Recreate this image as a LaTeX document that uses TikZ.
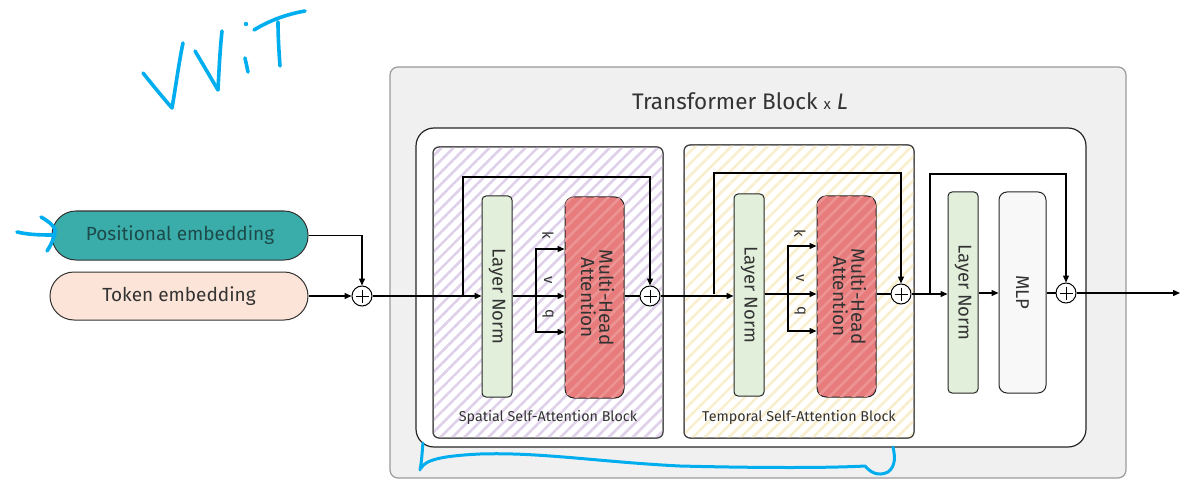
\documentclass[tikz,border=0pt]{standalone}
\usepackage{fontspec}
\setmainfont{Fira Sans}
\usetikzlibrary{arrows.meta,patterns.meta,calc}
\definecolor{outerfill}{HTML}{F1F0F1}
\definecolor{outerdraw}{HTML}{9A9A9A}
\definecolor{tealc}{HTML}{3AADAA}
\definecolor{tealtext}{HTML}{1D4A4A}
\definecolor{peach}{HTML}{FCE5D8}
\definecolor{lngreen}{HTML}{E2EFDA}
\definecolor{mhared}{HTML}{E87C7C}
\definecolor{mhastripe}{HTML}{EC9494}
\definecolor{mlpfill}{HTML}{F8F8F8}
\definecolor{purpstripe}{HTML}{E0D1EA}
\definecolor{yelstripe}{HTML}{F9EFCF}
\definecolor{ink}{HTML}{00AEEF}
\definecolor{txt}{HTML}{333333}
\tikzset{
  arr/.style={line width=1.3pt,-{Triangle[length=7pt,width=6pt]}},
  ln/.style={line width=1.3pt},
  pill/.style={rounded corners=24pt,draw=black!80,line width=1pt,text=txt,font=\fontsize{19}{22}\selectfont},
  lnbox/.style={draw=black!85,line width=1pt,rounded corners=4pt,fill=lngreen,text=txt,font=\fontsize{18.5}{21}\selectfont,inner sep=0},
  mhabox/.style={draw=black!85,line width=1pt,rounded corners=9pt,fill=mhared,text=txt,font=\fontsize{19}{21}\selectfont,inner sep=0},
  plus/.style={circle,draw=black,line width=1pt,fill=white,minimum size=20pt,inner sep=0,
    path picture={\draw[line width=1pt] ([yshift=-3.5pt]path picture bounding box.north)--([yshift=3.5pt]path picture bounding box.south)
      ([xshift=3.5pt]path picture bounding box.west)--([xshift=-3.5pt]path picture bounding box.east);}},
  blockbg/.style={draw=black!75,line width=1pt,rounded corners=6pt,fill=white},
  small/.style={font=\fontsize{14.3}{16}\selectfont,text=txt},
  kvq/.style={font=\fontsize{15}{16}\selectfont,text=txt,rotate=-90},
  hand/.style={draw=ink,line width=3.6pt,line cap=round,line join=round},
  hatch/.style={pattern={Lines[angle=45,distance=8.5pt,line width=2.6pt]}}
}
\begin{document}
\begin{tikzpicture}[x=1pt,y=-1pt]
\useasboundingbox (0,0) rectangle (1188,481);
% outer box
\draw[fill=outerfill,draw=outerdraw,line width=1.2pt,rounded corners=8pt] (390,67) rectangle (1126,478);
\node[font=\fontsize{22.5}{26}\selectfont,text=txt] (title) at (740,101) {Transformer Block {\fontsize{15}{17}\selectfont x} \textit{L}};
% inner box
\draw[fill=white,draw=black!85,line width=1.2pt,rounded corners=18pt] (416,128) rectangle (1086,447);
% spatial block
\draw[blockbg] (433,147) rectangle (663,438);
\fill[hatch,pattern color=purpstripe,rounded corners=6pt] (433.5,147.5) rectangle (662.5,437.5);
\draw[draw=black!75,line width=1pt,rounded corners=6pt] (433,147) rectangle (663,438);
\node[small] (slabel) at (548,417) {Spatial Self-Attention Block};
% temporal block
\draw[blockbg] (684,145) rectangle (914,438);
\fill[hatch,pattern color=yelstripe,rounded corners=6pt] (684.5,145.5) rectangle (913.5,437.5);
\draw[draw=black!75,line width=1pt,rounded corners=6pt] (684,145) rectangle (914,438);
\node[small] (tlabel) at (799,417) {Temporal Self-Attention Block};
% embeddings
\node[pill,fill=tealc,text=tealtext,minimum width=256pt,minimum height=49pt] (pos) at (180,235.5) {Positional embedding};
\node[pill,fill=peach,minimum width=258pt,minimum height=48pt] (tok) at (179,296) {Token embedding};
\node[plus] (p0) at (362,296) {};
% spatial contents
\node[lnbox,minimum width=30pt,minimum height=201pt] (ln1) at (497,296.5) {\rotatebox{-90}{Layer Norm}};
\node[mhabox,minimum width=59pt,minimum height=201pt,
  postaction={hatch,pattern color=mhastripe,rounded corners=9pt}] (mha1) at (594.5,297.5) {};
\node[font=\fontsize{19}{21}\selectfont,text=txt] (mha1t) at (mha1) {\rotatebox{-90}{\begin{tabular}{@{}c@{}}Multi-Head\\[-3pt]Attention\end{tabular}}};
\node[plus] (p1) at (650,296) {};
% temporal contents
\node[lnbox,minimum width=30pt,minimum height=202pt] (ln2) at (749,295) {\rotatebox{-90}{Layer Norm}};
\node[mhabox,minimum width=59pt,minimum height=201pt,
  postaction={hatch,pattern color=mhastripe,rounded corners=9pt}] (mha2) at (846.5,296.5) {};
\node[font=\fontsize{19}{21}\selectfont,text=txt] (mha2t) at (mha2) {\rotatebox{-90}{\begin{tabular}{@{}c@{}}Multi-Head\\[-3pt]Attention\end{tabular}}};
\node[plus] (p2) at (901,294) {};
% MLP part
\node[lnbox,minimum width=30pt,minimum height=201pt] (ln3) at (963,292.5) {\rotatebox{-90}{Layer Norm}};
\node[lnbox,fill=mlpfill,rounded corners=8pt,minimum width=47pt,minimum height=201pt] (mlp) at (1022.5,292.5) {\rotatebox{-90}{MLP}};
\node[plus] (p3) at (1066,293) {};
\coordinate (out) at (1180,293);
% connectors: embeddings
\draw[arr] (pos.east) -| (p0.north);
\draw[arr] (tok.east) -- (p0.west);
\draw[arr] (p0.east) -- (p0.east -| ln1.west);
% spatial
\coordinate (s1) at (463,296);
\coordinate (s1top) at (463,177);
\draw[arr] (s1) -- (s1top) -| (p1.north);
\coordinate (b1) at (536,296);
\coordinate (k1) at (536,249);
\coordinate (q1) at (536,332);
\draw[arr] (ln1.east |- b1) -- (b1 -| mha1.west);
\draw[arr] (b1) -- (k1) -- (k1 -| mha1.west);
\draw[arr] (b1) -- (q1) -- (q1 -| mha1.west);
\node[kvq] (k1l) at (548,235) {k};
\node[kvq] (v1l) at (548,280) {v};
\node[kvq] (q1l) at (548,314) {q};
\draw[ln] (mha1.east |- p1) -- (p1.west);
\draw[arr] (p1.east) -- (p1.east -| ln2.west);
% temporal
\coordinate (s2) at (714,294);
\coordinate (s2top) at (714,173);
\draw[arr] (s2) -- (s2top) -| (p2.north);
\coordinate (b2) at (788,294);
\coordinate (k2) at (788,246);
\coordinate (q2) at (788,331);
\draw[arr] (ln2.east |- b2) -- (b2 -| mha2.west);
\draw[arr] (b2) -- (k2) -- (k2 -| mha2.west);
\draw[arr] (b2) -- (q2) -- (q2 -| mha2.west);
\node[kvq] (k2l) at (800,233) {k};
\node[kvq] (v2l) at (800,278) {v};
\node[kvq] (q2l) at (800,311) {q};
\draw[ln] (mha2.east |- p2) -- (p2.west);
\draw[arr] (p2.east) -- (p2.east -| ln3.west);
% MLP part
\coordinate (s3) at (930,293);
\coordinate (s3top) at (930,174);
\draw[arr] (s3) -- (s3top) -| (p3.north);
\draw[arr] (ln3.east |- p3) -- (mlp.west |- p3);
\draw[ln] (mlp.east |- p3) -- (p3.west);
\draw[arr] (p3.east) -- (out);
% handwriting
\draw[hand] (143,73) .. controls (155,88) and (165,100) .. (172,108) .. controls (176,85) and (179,62) .. (183,43);
\draw[hand] (195,51) .. controls (204,66) and (212,80) .. (218,90) .. controls (219,70) and (220,50) .. (222,31);
\draw[hand] (245,58) -- (248,72);
\fill[ink] (246,24) circle (2.2pt);
\draw[hand] (254,30) .. controls (270,20) and (288,14) .. (305,11);
\draw[hand] (278,22) .. controls (278,37) and (279,52) .. (280,66);
\draw[hand] (17,232) .. controls (30,235) and (42,235) .. (55,235);
\draw[hand] (41,217) .. controls (48,221) and (53,225) .. (55,229) .. controls (55,237) and (51,245) .. (47,251);
\draw[hand,line width=3pt] (420,470) .. controls (422,460) and (422,452) .. (423,443);
\draw[hand,line width=3pt] (421,468) .. controls (426,460) and (440,456) .. (480,454) .. controls (540,452) and (600,462) .. (680,466) .. controls (760,468) and (830,468) .. (865,466) .. controls (870,472) and (878,477) .. (888,472) .. controls (896,466) and (895,456) .. (893,447);
\end{tikzpicture}
\end{document}
